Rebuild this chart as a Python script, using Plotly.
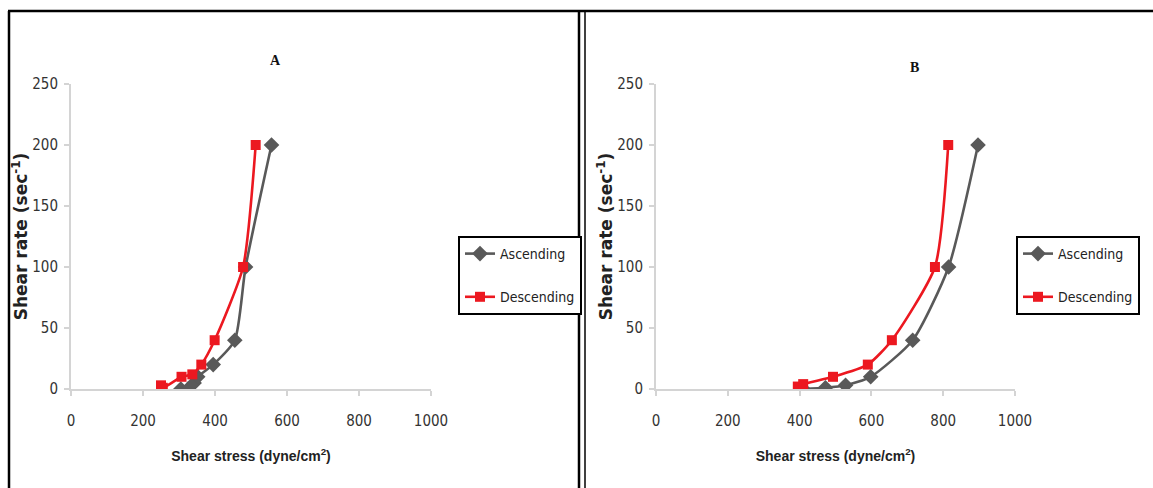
import plotly.graph_objects as go

W, H = 1153, 488

# Panel A data (Shear stress dyne/cm2 vs Shear rate sec^-1)
a_asc_x = [305, 325, 342, 352, 395, 455, 485, 557]
a_asc_y = [0, 0, 5, 10, 20, 40, 100, 200]
a_desc_x = [250, 255, 307, 337, 362, 399, 478, 513]
a_desc_y = [3, 1, 10, 12, 20, 40, 100, 200]

# Panel B data
b_asc_x = [410, 472, 528, 598, 715, 815, 897]
b_asc_y = [0, 1, 3, 10, 40, 100, 200]
b_desc_x = [395, 410, 493, 590, 657, 777, 814]
b_desc_y = [2, 4, 10, 20, 40, 100, 200]

x_ticks = [0, 200, 400, 600, 800, 1000]
y_ticks = [0, 50, 100, 150, 200, 250]

GREY = "#595959"
RED = "#ec1820"
COND = "DejaVu Sans Condensed, Liberation Sans Narrow, Arial Narrow, sans-serif"
BOLD = "Liberation Sans, Arial, sans-serif"
WIDEBOLD = "DejaVu Sans, Verdana, sans-serif"

def px(x):
    return x / W

def py(y):
    return 1 - y / H

fig = go.Figure()

def add_series(x, y, name, color, symbol, size, xa, ya, legend, group):
    fig.add_trace(go.Scatter(
        x=x, y=y, name=name, mode="lines+markers",
        line=dict(color=color, width=2.6, shape="spline", smoothing=0.6),
        marker=dict(color=color, symbol=symbol, size=size),
        xaxis=xa, yaxis=ya, legend=legend, legendgroup=group,
    ))

add_series(a_asc_x, a_asc_y, "Ascending", GREY, "diamond", 12, "x", "y", "legend", "a1")
add_series(a_desc_x, a_desc_y, "Descending", RED, "square", 10, "x", "y", "legend", "a2")
add_series(b_asc_x, b_asc_y, "Ascending", GREY, "diamond", 12, "x2", "y2", "legend2", "b1")
add_series(b_desc_x, b_desc_y, "Descending", RED, "square", 10, "x2", "y2", "legend2", "b2")

xcommon = dict(range=[0, 1000], tickvals=x_ticks, showgrid=False, zeroline=False,
               showline=True, linecolor="#d4d4d4", linewidth=2, ticks="outside",
               ticklen=5, tickcolor="#d4d4d4", tickwidth=1.5, ticklabelstandoff=12,
               automargin=False,
               tickfont=dict(family=COND, size=15, color="#333"),
               title=dict(font=dict(family=BOLD, size=14, color="#222", weight="bold"),
                          standoff=22))
ycommon = dict(range=[0, 250], tickvals=y_ticks, showgrid=False, zeroline=False,
               showline=True, linecolor="#d4d4d4", linewidth=2, ticks="outside",
               ticklen=5, tickcolor="#d4d4d4", tickwidth=1.5, ticklabelstandoff=3,
               automargin=False,
               tickfont=dict(family=COND, size=15, color="#333"),
               title=dict(font=dict(family=WIDEBOLD, size=17, color="#222", weight="bold"),
                          standoff=0))

ydom = [py(389), py(84)]

legend_common = dict(yanchor="top", xanchor="left",
                     bordercolor="black", borderwidth=2, bgcolor="white",
                     font=dict(family=COND, size=14, color="#222"),
                     itemwidth=30, tracegroupgap=22)

fig.update_layout(
    width=W, height=H, autosize=False,
    margin=dict(l=0, r=0, t=0, b=0, autoexpand=False),
    paper_bgcolor="white", plot_bgcolor="white",
    xaxis=dict(domain=[px(71), px(431)], anchor="y",
               **{**xcommon, "title": dict(xcommon["title"], text="Shear stress (dyne/cm<sup>2</sup>)")}),
    yaxis=dict(domain=ydom, anchor="x",
               **{**ycommon, "title": dict(ycommon["title"], text="Shear rate (sec<sup>-1</sup>)")}),
    xaxis2=dict(domain=[px(656), px(1015)], anchor="y2",
                **{**xcommon, "title": dict(xcommon["title"], text="Shear stress (dyne/cm<sup>2</sup>)")}),
    yaxis2=dict(domain=ydom, anchor="x2",
                **{**ycommon, "title": dict(ycommon["title"], text="Shear rate (sec<sup>-1</sup>)")}),
    legend=dict(x=px(458), y=py(236), **legend_common),
    legend2=dict(x=px(1016), y=py(236), **legend_common),
    showlegend=True,
)

fig.add_annotation(text="<b>A</b>", x=px(275), y=py(60), xref="paper", yref="paper",
                   xanchor="center", yanchor="middle",
                   showarrow=False, font=dict(family="Liberation Serif, serif", size=14, color="#111"))
fig.add_annotation(text="<b>B</b>", x=px(914), y=py(67), xref="paper", yref="paper",
                   xanchor="center", yanchor="middle",
                   showarrow=False, font=dict(family="Liberation Serif, serif", size=14, color="#111"))

# Frames
frame = dict(color="black", width=2.5)
fig.add_shape(type="line", xref="paper", yref="paper", x0=px(8), x1=1, y0=py(11), y1=py(11), line=frame)
fig.add_shape(type="line", xref="paper", yref="paper", x0=px(9), x1=px(9), y0=py(11), y1=0, line=frame)
fig.add_shape(type="line", xref="paper", yref="paper", x0=px(579), x1=px(579), y0=py(11), y1=0, line=frame)
fig.add_shape(type="line", xref="paper", yref="paper", x0=px(585), x1=px(585), y0=py(11), y1=0,
              line=dict(color="black", width=1.5))

fig.write_html("out.html")
